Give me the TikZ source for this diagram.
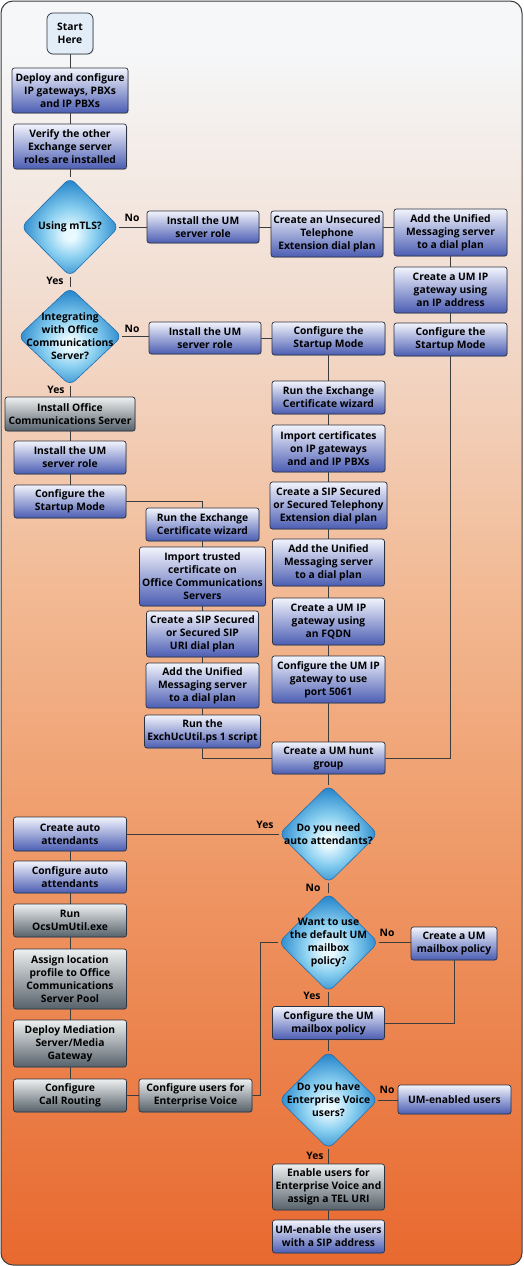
\documentclass[tikz,border=0pt]{standalone}
\usepackage{fontspec}
\setmainfont{Open Sans}
\usetikzlibrary{shapes.geometric,shadows}
\definecolor{bgA}{HTML}{E8692F}
\definecolor{bgB}{HTML}{EC8853}
\definecolor{bgC}{HTML}{F0A070}
\definecolor{bgD}{HTML}{F2B993}
\definecolor{bgE}{HTML}{F2DCCF}
\definecolor{bgF}{HTML}{F5F7F8}
\definecolor{bluetop}{HTML}{F2F4FC}
\definecolor{bluebot}{HTML}{4B5DB3}
\definecolor{graytop}{HTML}{EEF0F0}
\definecolor{graybot}{HTML}{56616A}
\definecolor{boxline}{HTML}{2C3240}
\definecolor{linecol}{HTML}{3C3C3C}
\definecolor{startfill}{HTML}{E2EDF8}
\definecolor{diaA}{HTML}{E8F9FF}
\definecolor{diaB}{HTML}{86CDEF}
\definecolor{diaC}{HTML}{2A88CC}
\definecolor{dialine}{HTML}{1F6FAF}
\pgfdeclareverticalshading{bgsh}{100bp}{color(0bp)=(bgA); color(25bp)=(bgA); color(35.5bp)=(bgB); color(43.5bp)=(bgC); color(51.5bp)=(bgD); color(63bp)=(bgE); color(73bp)=(bgF); color(100bp)=(bgF)}
\pgfdeclareradialshading{diash}{\pgfpoint{0bp}{-4bp}}{color(0bp)=(diaA); color(3bp)=(diaA); color(13bp)=(diaB); color(25bp)=(diaC); color(50bp)=(diaC)}
\pgfdeclarelayer{back}
\pgfdeclarelayer{bg}
\pgfsetlayers{back,bg,main}
\newcommand{\lblfont}{\bfseries\fontsize{10.3}{13}\selectfont}
\begin{document}
\begin{tikzpicture}[x=1pt,y=-1pt,
  box/.style={draw=boxline, line width=0.7pt, rounded corners=2.5pt, inner sep=1pt, align=center, font=\lblfont,
    drop shadow={shadow xshift=0.8pt, shadow yshift=-0.8pt, opacity=0.3}},
  bb/.style={box, top color=bluetop, bottom color=bluebot},
  gb/.style={box, top color=graytop, bottom color=graybot},
  sz/.style 2 args={minimum width=#1pt, minimum height=#2pt},
  dia/.style={shape=diamond, inner sep=0pt, draw=dialine, line width=0.6pt, rounded corners=7pt, shading=diash},
  dtext/.style={align=center, font=\lblfont, inner sep=0pt},
  lab/.style={font=\lblfont, inner sep=0pt},
  conn/.style={draw=linecol, line width=0.8pt}]
\useasboundingbox (0,0) rectangle (523,1266);
\begin{pgfonlayer}{back}
\path[shading=bgsh, draw=linecol, line width=1pt, rounded corners=12pt] (1,1) rectangle (522,1265);
\end{pgfonlayer}

% top
\node[box, fill=startfill, rounded corners=6pt, sz={46}{41}] (start) at (70,33.5) {Start\\Here};
\node[bb, sz={116}{45}] (deploy) at (70,90.5) {Deploy and configure\\IP gateways, PBXs\\and IP PBXs};
\node[bb, sz={113}{45}] (verify) at (70,146.5) {Verify the other\\Exchange server\\roles are installed};
\node[dia, minimum width=98pt, minimum height=99pt] (mtls) at (70,227) {};
\node[dtext] (mtlst) at (mtls.center) {Using mTLS?};
\node[bb, sz={112}{32}] (inst1) at (203,227) {Install the UM\\server role};
\node[bb, sz={112}{46}] (unsec) at (327,234) {Create an Unsecured\\Telephone\\Extension dial plan};
\node[bb, sz={113}{47}] (add1) at (450.5,232.5) {Add the Unified\\Messaging server\\to a dial plan};
\node[bb, sz={113}{46}] (gwip) at (450.5,290) {Create a UM IP\\gateway using\\an IP address};
\node[bb, sz={113}{33}] (cfgR) at (450.5,339.5) {Configure the\\Startup Mode};

% integrating
\node[dia, minimum width=104pt, minimum height=98pt] (integ) at (70,336.5) {};
\node[dtext] (integt) at (integ.center) {Integrating\\with Office\\Communications\\Server?};
\node[bb, sz={112}{32}] (inst2) at (205,338) {Install the UM\\server role};
\node[bb, sz={113}{33}] (cfgM) at (328.5,338.5) {Configure the\\Startup Mode};
\node[bb, sz={113}{33}] (certM) at (328.5,397.5) {Run the Exchange\\Certificate wizard};
\node[bb, sz={113}{47}] (impM) at (328.5,448.5) {Import certificates\\on IP gateways\\and and IP PBXs};
\node[bb, sz={117}{47}] (sipM) at (328.5,505.5) {Create a SIP Secured\\or Secured Telephony\\Extension dial plan};
\node[bb, sz={112}{47}] (addM) at (328.5,562.5) {Add the Unified\\Messaging server\\to a dial plan};
\node[bb, sz={112}{47}] (fqdn) at (328.5,621.5) {Create a UM IP\\gateway using\\an FQDN};
\node[bb, sz={113}{47}] (port) at (328.5,679.5) {Configure the UM IP\\gateway to use\\port 5061};
\node[bb, sz={113}{32}] (hunt) at (328.5,758) {Create a UM hunt\\group};

% left OCS branch
\node[gb, sz={130}{34}] (ocs) at (70,414) {Install Office\\Communications Server};
\node[bb, sz={112}{33}] (inst3) at (70,457.5) {Install the UM\\server role};
\node[bb, sz={112}{33}] (cfgL) at (70,501.5) {Configure the\\Startup Mode};
\node[bb, sz={113}{33}] (certL) at (202.5,524.5) {Run the Exchange\\Certificate wizard};
\node[bb, sz={126}{59}] (impL) at (202.5,576.5) {Import trusted\\certificate on\\Office Communications\\Servers};
\node[bb, sz={112}{46}] (sipL) at (202.5,634) {Create a SIP Secured\\or Secured SIP\\URI dial plan};
\node[bb, sz={113}{45}] (addL) at (202.5,685.5) {Add the Unified\\Messaging server\\to a dial plan};
\node[bb, sz={116}{33}] (exch) at (202.5,731.5) {Run the\\ExchUcUtil.ps 1 script};

% lower part
\node[dia, minimum width=99pt, minimum height=98pt] (aa) at (328.5,834) {};
\node[dtext] (aat) at (aa.center) {Do you need\\auto attendants?};
\node[bb, sz={113}{34}] (caa) at (70,834) {Create auto\\attendants};
\node[bb, sz={113}{32}] (cfgaa) at (70,877) {Configure auto\\attendants};
\node[gb, sz={113}{33}] (ocsum) at (70,920.5) {Run\\OcsUmUtil.exe};
\node[gb, sz={113}{60}] (assign) at (70,979) {Assign location\\profile to Office\\Communications\\Server Pool};
\node[gb, sz={113}{47}] (deploym) at (70,1043.5) {Deploy Mediation\\Server/Media\\Gateway};
\node[gb, sz={113}{33}] (callr) at (70,1095.5) {Configure\\Call Routing};
\node[gb, sz={113}{33}] (evusr) at (195.5,1095.5) {Configure users for\\Enterprise Voice};
\node[dia, minimum width=100pt, minimum height=99pt] (def) at (328.5,942.5) {};
\node[dtext] (deft) at (def.center) {Want to use\\the default UM\\mailbox\\policy?};
\node[bb, sz={86}{33}] (mbp) at (454,943.5) {Create a UM\\mailbox policy};
\node[bb, sz={112}{33}] (cfgmb) at (328.5,1023) {Configure the UM\\mailbox policy};
\node[dia, minimum width=99pt, minimum height=98pt] (ev) at (328.5,1100) {};
\node[dtext] (evt) at (ev.center) {Do you have\\Enterprise Voice\\users?};
\node[bb, sz={113}{29}] (umen) at (454.5,1099.5) {UM-enabled users};
\node[gb, sz={112}{46}] (enable) at (328.5,1187) {Enable users for\\Enterprise Voice and\\assign a TEL URI};
\node[bb, sz={112}{33}] (umsip) at (328.5,1236.5) {UM-enable the users\\with a SIP address};

% labels
\node[lab] (l1) at (132,218) {No};
\node[lab] (l2) at (55,281) {Yes};
\node[lab] (l3) at (132,329) {No};
\node[lab] (l4) at (56,390) {Yes};
\node[lab] (l5) at (265,825) {Yes};
\node[lab] (l6) at (313,888) {No};
\node[lab] (l7) at (387,933) {No};
\node[lab] (l8) at (312,996) {Yes};
\node[lab] (l9) at (387,1090) {No};
\node[lab] (l10) at (315,1156) {Yes};

\begin{pgfonlayer}{bg}
\draw[conn] (start) -- (deploy);
\draw[conn] (deploy) -- (verify);
\draw[conn] (verify) -- (mtls.north);
\draw[conn] (mtls.east) -- (inst1.west);
\draw[conn] (inst1.east) -- (inst1.east -| unsec.west);
\draw[conn] (inst1.east -| unsec.east) -- (inst1.east -| add1.west);
\draw[conn] (add1) -- (gwip);
\draw[conn] (gwip) -- (cfgR);
\draw[conn] (cfgR.south) |- (hunt.east);
\draw[conn] (mtls.south) -- (integ.north);
\draw[conn] (integ.east) -- (integ.east -| inst2.west);
\draw[conn] (inst2.east) -- (inst2.east -| cfgM.west);
\draw[conn] (cfgM) -- (certM);
\draw[conn] (certM) -- (impM);
\draw[conn] (impM) -- (sipM);
\draw[conn] (sipM) -- (addM);
\draw[conn] (addM) -- (fqdn);
\draw[conn] (fqdn) -- (port);
\draw[conn] (port) -- (hunt);
\draw[conn] (integ.south) -- (ocs.north);
\draw[conn] (ocs) -- (inst3);
\draw[conn] (inst3) -- (cfgL);
\draw[conn] (cfgL.east) -| (certL.north);
\draw[conn] (certL) -- (impL);
\draw[conn] (impL) -- (sipL);
\draw[conn] (sipL) -- (addL);
\draw[conn] (addL) -- (exch);
\draw[conn] (exch.south) |- (hunt.west);
\draw[conn] (hunt.south) -- (aa.north);
\draw[conn] (aa.west) -- (caa.east);
\draw[conn] (caa) -- (cfgaa);
\draw[conn] (cfgaa) -- (ocsum);
\draw[conn] (ocsum) -- (assign);
\draw[conn] (assign) -- (deploym);
\draw[conn] (deploym) -- (callr);
\draw[conn] (callr) -- (evusr);
\draw[conn] (evusr.east) -- (260,1095.5) |- (def.west);
\draw[conn] (aa.south) -- (def.north);
\draw[conn] (def.east) -- (def.east -| mbp.west);
\draw[conn] (mbp.south) |- (cfgmb.east);
\draw[conn] (def.south) -- (cfgmb.north);
\draw[conn] (cfgmb.south) -- (ev.north);
\draw[conn] (ev.east) -- (ev.east -| umen.west);
\draw[conn] (ev.south) -- (enable.north);
\draw[conn] (enable) -- (umsip);
\end{pgfonlayer}
\end{tikzpicture}
\end{document}
